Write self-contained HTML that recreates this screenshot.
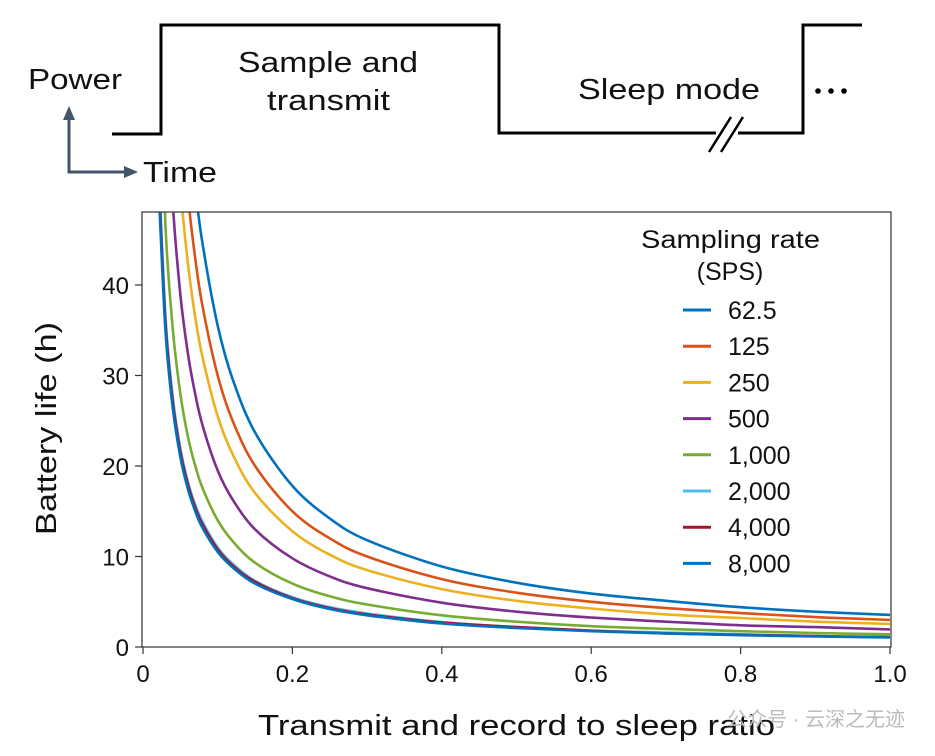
<!DOCTYPE html>
<html><head><meta charset="utf-8"><style>
html,body{margin:0;padding:0;background:#fff;}
svg{display:block;font-family:"Liberation Sans","Noto Sans CJK SC",sans-serif;}
</style></head><body>
<svg id="c" width="935" height="756" viewBox="0 0 935 756">
<g fill="none" stroke="#000" stroke-width="3">
<polyline points="112,134 161,134 161,25 499,25 499,133 803,133 803,25 862,25"/>
<rect x="716" y="124" width="22" height="18" fill="#fff" stroke="none"/>
<line x1="709" y1="152" x2="731" y2="117" stroke-width="2.5"/>
<line x1="721" y1="152" x2="743" y2="117" stroke-width="2.5"/>
</g>
<g fill="#000">
<circle cx="818" cy="91" r="2.8"/><circle cx="831" cy="91" r="2.8"/><circle cx="844" cy="91" r="2.8"/>
</g>
<g stroke="#44546a" stroke-width="3" fill="#44546a">
<polyline points="69,112 69,172 128,172" fill="none"/>
<polygon points="69,106 63,120 75,120" stroke="none"/>
<polygon points="138,172 124,166 124,178" stroke="none"/>
</g>
<g font-size="29" fill="#111">
<text x="28" y="89" textLength="94" lengthAdjust="spacingAndGlyphs">Power</text>
<text x="143" y="182" textLength="74" lengthAdjust="spacingAndGlyphs">Time</text>
<text x="238" y="72" textLength="180" lengthAdjust="spacingAndGlyphs">Sample and</text>
<text x="267" y="110" textLength="123" lengthAdjust="spacingAndGlyphs">transmit</text>
<text x="578" y="99" textLength="182" lengthAdjust="spacingAndGlyphs">Sleep mode</text>
</g>
<g id="plot"></g>
<text x="905" y="726" font-size="20" fill="#bbb" text-anchor="end">公众号 · 云深之无迹</text>
</svg>
<script>
const xs=[0.02,0.03,0.04,0.05,0.06,0.07,0.08,0.1,0.12,0.15,0.2,0.25,0.3,0.4,0.5,0.6,0.7,0.8,0.9,1.0];
const seriesNames=["62.5","125","250","500","1,000","2,000","4,000","8,000"];
const s62=[177.5,118.3,88.8,71,59.2,50.7,44.4,35.5,29.6,23.7,17.8,14.2,11.8,8.9,7.1,5.9,5.1,4.4,3.9,3.55];
const s125=[150,100,75,60,50,42.9,37.5,30,25,20,15,12,10,7.5,6,5,4.3,3.75,3.3,3.0];
const s250=[127.5,85,63.8,51,42.5,36.4,31.9,25.5,21.3,17,12.8,10.2,8.5,6.4,5.1,4.25,3.6,3.2,2.8,2.55];
const s500=[97.5,65,48.8,39,32.5,27.9,24.4,19.5,16.3,13,9.8,7.8,6.5,4.9,3.9,3.25,2.8,2.4,2.2,1.95];
const s1000=[70,46.7,35,28,23.3,20,17.5,14,11.7,9.3,7,5.6,4.7,3.5,2.8,2.3,2,1.75,1.55,1.4];
const s2000=[55,36.7,27.5,22,18.3,15.7,13.8,11,9.2,7.3,5.5,4.4,3.7,2.75,2.2,1.8,1.6,1.4,1.2,1.1];
const s4000=[54,36,27,21.6,18,15.4,13.5,10.8,9,7.2,5.4,4.3,3.6,2.7,2.2,1.8,1.5,1.35,1.2,1.08];
const s8000=[52.5,35,26.3,21,17.5,15,13.1,10.5,8.8,7,5.3,4.2,3.5,2.6,2.1,1.75,1.5,1.3,1.17,1.05];
const xTicks=[0,0.2,0.4,0.6,0.8,1.0];
const xTickLabels=["0","0.2","0.4","0.6","0.8","1.0"];
const yTicks=[0,10,20,30,40];
const yTickLabels=["0","10","20","30","40"];
const colors=["#0072BD","#D95319","#EDB120","#7E2F8E","#77AC30","#4DBEEE","#A2142F","#0072BD"];
const allSeries=[s62,s125,s250,s500,s1000,s2000,s4000,s8000];
const drawOrder=[5,6,7,4,3,2,1,0];
const L=142,R=891,T=212,B=647;
const X=v=>143+v*(890-143);
const Y=v=>647-v*9.05;
const NS="http://www.w3.org/2000/svg";
const g=document.getElementById('plot');
function mk(t,a,p){const e=document.createElementNS(NS,t);for(const k in a)e.setAttribute(k,a[k]);(p||g).appendChild(e);return e;}
function smooth(pts){let d='M'+pts[0][0].toFixed(1)+','+pts[0][1].toFixed(1);
 for(let i=0;i<pts.length-1;i++){const p0=pts[i-1]||pts[i],p1=pts[i],p2=pts[i+1],p3=pts[i+2]||p2;
  const c1=[p1[0]+(p2[0]-p0[0])/6,p1[1]+(p2[1]-p0[1])/6],c2=[p2[0]-(p3[0]-p1[0])/6,p2[1]-(p3[1]-p1[1])/6];
  d+='C'+c1.map(v=>v.toFixed(1))+' '+c2.map(v=>v.toFixed(1))+' '+p2.map(v=>v.toFixed(1));}
 return d;}
const defs=mk('defs',{});const cp=mk('clipPath',{id:'cl'},defs);mk('rect',{x:L,y:T,width:R-L,height:B-T},cp);
const lg=mk('g',{'clip-path':'url(#cl)'});
drawOrder.forEach(i=>{
 const d=smooth(allSeries[i].map((v,j)=>[X(xs[j]),Y(v)]));
 const p=mk('path',{d:d,fill:'none',stroke:colors[i],'stroke-width':2.6,'stroke-linejoin':'round'},lg);
 
 
});
const frame=mk('rect',{x:L,y:T,width:R-L,height:B-T,fill:'none',stroke:'#333','stroke-width':1.2});


xTicks.forEach((v,i)=>{
 const t=mk('line',{x1:X(v),x2:X(v),y1:B,y2:B+7,stroke:'#333','stroke-width':1.2});
 
 
 const l=mk('text',{x:X(v),y:B+35,'font-size':24,'text-anchor':'middle',fill:'#111'});l.textContent=xTickLabels[i];
 
 
});
yTicks.forEach((v,i)=>{
 const t=mk('line',{x1:L-7,x2:L,y1:Y(v),y2:Y(v),stroke:'#333','stroke-width':1.2});
 
 
 const l=mk('text',{x:L-13,y:Y(v)+9,'font-size':24,'text-anchor':'end',fill:'#111'});l.textContent=yTickLabels[i];
 
 
});
const xt=mk('text',{x:258,y:735,'font-size':29,textLength:517,lengthAdjust:'spacingAndGlyphs',fill:'#111'});xt.textContent='Transmit and record to sleep ratio';


const yt=mk('text',{x:0,y:0,'font-size':29,textLength:213,lengthAdjust:'spacingAndGlyphs',fill:'#111',transform:'translate(56,535) rotate(-90)'});yt.textContent='Battery life (h)';


const lt1=mk('text',{x:641,y:248,'font-size':25,textLength:179,lengthAdjust:'spacingAndGlyphs',fill:'#111'});lt1.textContent='Sampling rate';


const lt2=mk('text',{x:730,y:280,'font-size':25,'text-anchor':'middle',fill:'#111'});lt2.textContent='(SPS)';


seriesNames.forEach((n,i)=>{
 const y=310+i*36.2;
 const eg=mk('g',{});
 
 
 mk('line',{x1:683,x2:711,y1:y,y2:y,stroke:colors[i],'stroke-width':3},eg);
 const t=mk('text',{x:728,y:y+9,'font-size':25,fill:'#111'},eg);t.textContent=n;
});
</script>
</body></html>
